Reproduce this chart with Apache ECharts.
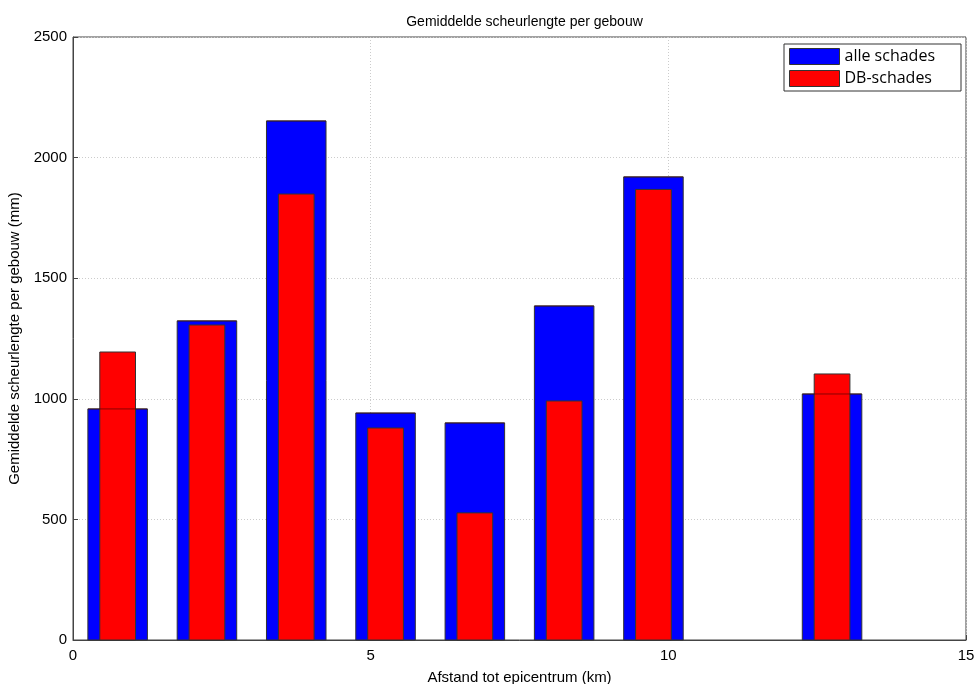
<!DOCTYPE html>
<html><head><meta charset="utf-8">
<script src="https://cdn.jsdelivr.net/npm/echarts@6/dist/echarts.min.js"></script>
<style>html,body{margin:0;padding:0;background:#fff}#c{width:979px;height:684px}</style>
</head><body><div id="c"></div>
<script>
const distances = [0.75, 2.25, 3.75, 5.25, 6.75, 8.25, 9.75, 12.75];
const alleSchades = [958, 1323, 2152, 941, 900, 1385, 1920, 1020];
const dbSchades = [1194, 1306, 1849, 879, 527, 991, 1868, 1103];
const xTicks = [0, 5, 10, 15];
const yTicks = [0, 500, 1000, 1500, 2000, 2500];
const blueWidth = 1.0, redWidth = 0.6;

function barRender(width, color) {
  return function (params, api) {
    const x = api.value(0), y = api.value(1);
    const p0 = api.coord([x - width / 2, y]);
    const p1 = api.coord([x + width / 2, 0]);
    return {
      type: 'rect',
      shape: { x: p0[0], y: p0[1], width: p1[0] - p0[0], height: p1[1] - p0[1] },
      style: { fill: color, stroke: '#333', lineWidth: 1 }
    };
  };
}
function edgeRender(params, api) {
  const x = api.value(0), y = api.value(1);
  const p0 = api.coord([x - blueWidth / 2, y]);
  const p1 = api.coord([x + blueWidth / 2, y]);
  return { type: 'line', shape: { x1: p0[0], y1: p0[1], x2: p1[0], y2: p1[1] },
    style: { stroke: 'rgba(60,0,0,0.6)', lineWidth: 1 } };
}

const chart = echarts.init(document.getElementById('c'));
const axisFont = 'Liberation Sans, Arial';
chart.setOption({
  animation: false,
  title: { text: 'Gemiddelde scheurlengte per gebouw', left: 519.5, textAlign: 'center', top: 10,
    textStyle: { fontFamily: axisFont, fontSize: 14, fontWeight: 'normal', color: '#000' } },
  legend: {
    right: 18, top: 44, orient: 'vertical', itemWidth: 50, itemHeight: 16, itemGap: 5,
    borderColor: '#333', borderWidth: 1, padding: [4, 26, 4, 5], backgroundColor: '#fff',
    textStyle: { fontFamily: 'Open Sans, Noto Sans', fontSize: 16, color: '#000' },
    data: [
      { name: 'alle schades', icon: 'rect', itemStyle: { color: '#0000ff', borderColor: '#333', borderWidth: 1 } },
      { name: 'DB-schades', icon: 'rect', itemStyle: { color: '#ff0000', borderColor: '#333', borderWidth: 1 } }
    ],
    selectedMode: false
  },
  grid: { left: 73, right: 13, top: 37, bottom: 44, show: true, borderColor: '#444', borderWidth: 1,
    containLabel: false, outerBoundsMode: 'none' },
  xAxis: {
    type: 'value', min: xTicks[0], max: xTicks[xTicks.length - 1], interval: 5,
    name: 'Afstand tot epicentrum (km)', nameLocation: 'middle', nameGap: 30,
    nameTextStyle: { fontFamily: axisFont, fontSize: 15, color: '#000' },
    axisLine: { lineStyle: { color: '#444' } },
    axisTick: { inside: true, length: 5, lineStyle: { color: '#444' } },
    axisLabel: { fontFamily: axisFont, fontSize: 15, color: '#000', margin: 8 },
    splitLine: { show: true, lineStyle: { color: '#ccc', type: [1, 2] } }
  },
  yAxis: {
    type: 'value', min: yTicks[0], max: yTicks[yTicks.length - 1], interval: 500,
    name: 'Gemiddelde scheurlengte per gebouw (mm)', nameLocation: 'middle', nameGap: 47,
    nameTextStyle: { fontFamily: axisFont, fontSize: 15, color: '#000' },
    axisLine: { show: true, lineStyle: { color: '#444' } },
    axisTick: { show: true, inside: true, length: 5, lineStyle: { color: '#444' } },
    axisLabel: { fontFamily: axisFont, fontSize: 15, color: '#000', margin: 6, formatter: v => String(v) },
    splitLine: { show: true, lineStyle: { color: '#ccc', type: [1, 2] } }
  },
  series: [
    { name: 'alle schades', type: 'custom', renderItem: barRender(blueWidth, '#0000ff'),
      itemStyle: { color: '#0000ff' }, encode: { x: 0, y: 1 },
      data: distances.map((d, i) => [d, alleSchades[i]]) },
    { name: 'DB-schades', type: 'custom', renderItem: barRender(redWidth, '#ff0000'),
      itemStyle: { color: '#ff0000' }, encode: { x: 0, y: 1 },
      data: distances.map((d, i) => [d, dbSchades[i]]) },
    { name: 'edge', type: 'custom', renderItem: edgeRender, silent: true, encode: { x: 0, y: 1 },
      data: distances.map((d, i) => [d, alleSchades[i]]) }
  ]
});
</script></body></html>
